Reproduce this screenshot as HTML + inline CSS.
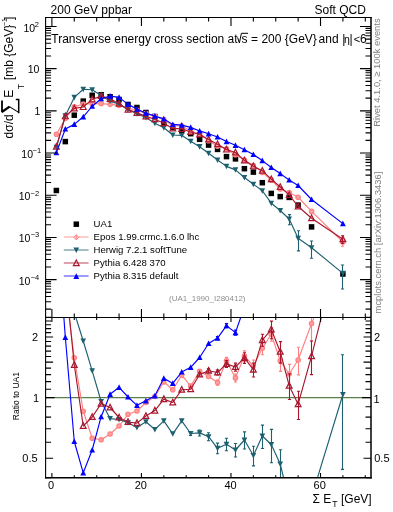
<!DOCTYPE html>
<html><head><meta charset="utf-8"><style>
html,body{margin:0;padding:0;background:#fff;width:393px;height:512px;overflow:hidden}
svg{display:block;will-change:transform;font-family:"Liberation Sans", sans-serif}
</style></head><body>
<svg width="393" height="512" viewBox="0 0 393 512" font-family="Liberation Sans"><defs><clipPath id="cm"><rect x="45.6" y="17.5" width="325.4" height="299.9"/></clipPath><clipPath id="cr"><rect x="45.6" y="317.4" width="325.4" height="160.40000000000003"/></clipPath></defs>
<g clip-path="url(#cm)">
<rect x="53.63" y="187.75" width="5.50" height="5.50" fill="#000"/>
<rect x="62.58" y="138.85" width="5.50" height="5.50" fill="#000"/>
<rect x="71.53" y="112.45" width="5.50" height="5.50" fill="#000"/>
<rect x="80.49" y="98.35" width="5.50" height="5.50" fill="#000"/>
<rect x="89.44" y="92.55" width="5.50" height="5.50" fill="#000"/>
<rect x="98.40" y="92.00" width="5.50" height="5.50" fill="#000"/>
<rect x="107.35" y="94.00" width="5.50" height="5.50" fill="#000"/>
<rect x="116.31" y="96.75" width="5.50" height="5.50" fill="#000"/>
<rect x="125.26" y="101.75" width="5.50" height="5.50" fill="#000"/>
<rect x="134.21" y="104.75" width="5.50" height="5.50" fill="#000"/>
<rect x="143.17" y="109.75" width="5.50" height="5.50" fill="#000"/>
<rect x="152.12" y="113.75" width="5.50" height="5.50" fill="#000"/>
<rect x="161.08" y="120.15" width="5.50" height="5.50" fill="#000"/>
<rect x="170.03" y="124.65" width="5.50" height="5.50" fill="#000"/>
<rect x="178.98" y="127.75" width="5.50" height="5.50" fill="#000"/>
<rect x="187.94" y="130.95" width="5.50" height="5.50" fill="#000"/>
<rect x="196.89" y="136.55" width="5.50" height="5.50" fill="#000"/>
<rect x="205.85" y="142.35" width="5.50" height="5.50" fill="#000"/>
<rect x="214.80" y="146.65" width="5.50" height="5.50" fill="#000"/>
<rect x="223.75" y="153.85" width="5.50" height="5.50" fill="#000"/>
<rect x="232.71" y="156.15" width="5.50" height="5.50" fill="#000"/>
<rect x="241.66" y="165.95" width="5.50" height="5.50" fill="#000"/>
<rect x="250.62" y="169.35" width="5.50" height="5.50" fill="#000"/>
<rect x="259.57" y="179.95" width="5.50" height="5.50" fill="#000"/>
<rect x="268.52" y="190.65" width="5.50" height="5.50" fill="#000"/>
<rect x="277.48" y="193.85" width="5.50" height="5.50" fill="#000"/>
<rect x="286.43" y="194.65" width="5.50" height="5.50" fill="#000"/>
<rect x="295.38" y="202.35" width="5.50" height="5.50" fill="#000"/>
<rect x="308.82" y="224.15" width="5.50" height="5.50" fill="#000"/>
<rect x="340.15" y="271.25" width="5.50" height="5.50" fill="#000"/>
<polyline points="56.38,134.20 65.33,118.50 74.28,106.88 83.24,103.94 92.19,103.78 101.15,103.57 110.10,104.36 119.06,105.43 128.01,107.99 136.96,110.30 145.92,113.52 154.87,116.27 163.83,119.62 172.78,125.75 181.73,125.82 190.69,131.30 199.64,133.81 208.60,140.69 217.55,146.27 226.50,148.91 235.46,154.78 244.41,160.01 253.37,165.46 262.32,172.39 271.27,180.15 280.23,188.90 289.18,192.47 298.13,197.24 311.57,211.42 342.90,242.00" fill="none" stroke="#ff8080" stroke-width="1.15" stroke-linejoin="round"/>
<circle cx="56.38" cy="134.20" r="2.25" fill="#ff9c9c" stroke="#ff8080" stroke-width="1.1"/>
<circle cx="65.33" cy="118.50" r="2.25" fill="#ff9c9c" stroke="#ff8080" stroke-width="1.1"/>
<circle cx="74.28" cy="106.88" r="2.25" fill="#ff9c9c" stroke="#ff8080" stroke-width="1.1"/>
<circle cx="83.24" cy="103.94" r="2.25" fill="#ff9c9c" stroke="#ff8080" stroke-width="1.1"/>
<circle cx="92.19" cy="103.78" r="2.25" fill="#ff9c9c" stroke="#ff8080" stroke-width="1.1"/>
<circle cx="101.15" cy="103.57" r="2.25" fill="#ff9c9c" stroke="#ff8080" stroke-width="1.1"/>
<circle cx="110.10" cy="104.36" r="2.25" fill="#ff9c9c" stroke="#ff8080" stroke-width="1.1"/>
<circle cx="119.06" cy="105.43" r="2.25" fill="#ff9c9c" stroke="#ff8080" stroke-width="1.1"/>
<circle cx="128.01" cy="107.99" r="2.25" fill="#ff9c9c" stroke="#ff8080" stroke-width="1.1"/>
<circle cx="136.96" cy="110.30" r="2.25" fill="#ff9c9c" stroke="#ff8080" stroke-width="1.1"/>
<circle cx="145.92" cy="113.52" r="2.25" fill="#ff9c9c" stroke="#ff8080" stroke-width="1.1"/>
<circle cx="154.87" cy="116.27" r="2.25" fill="#ff9c9c" stroke="#ff8080" stroke-width="1.1"/>
<circle cx="163.83" cy="119.62" r="2.25" fill="#ff9c9c" stroke="#ff8080" stroke-width="1.1"/>
<circle cx="172.78" cy="125.75" r="2.25" fill="#ff9c9c" stroke="#ff8080" stroke-width="1.1"/>
<circle cx="181.73" cy="125.82" r="2.25" fill="#ff9c9c" stroke="#ff8080" stroke-width="1.1"/>
<circle cx="190.69" cy="131.30" r="2.25" fill="#ff9c9c" stroke="#ff8080" stroke-width="1.1"/>
<circle cx="199.64" cy="133.81" r="2.25" fill="#ff9c9c" stroke="#ff8080" stroke-width="1.1"/>
<circle cx="208.60" cy="140.69" r="2.25" fill="#ff9c9c" stroke="#ff8080" stroke-width="1.1"/>
<circle cx="217.55" cy="146.27" r="2.25" fill="#ff9c9c" stroke="#ff8080" stroke-width="1.1"/>
<circle cx="226.50" cy="148.91" r="2.25" fill="#ff9c9c" stroke="#ff8080" stroke-width="1.1"/>
<circle cx="235.46" cy="154.78" r="2.25" fill="#ff9c9c" stroke="#ff8080" stroke-width="1.1"/>
<circle cx="244.41" cy="160.01" r="2.25" fill="#ff9c9c" stroke="#ff8080" stroke-width="1.1"/>
<circle cx="253.37" cy="165.46" r="2.25" fill="#ff9c9c" stroke="#ff8080" stroke-width="1.1"/>
<circle cx="262.32" cy="172.39" r="2.25" fill="#ff9c9c" stroke="#ff8080" stroke-width="1.1"/>
<circle cx="271.27" cy="180.15" r="2.25" fill="#ff9c9c" stroke="#ff8080" stroke-width="1.1"/>
<circle cx="280.23" cy="188.90" r="2.25" fill="#ff9c9c" stroke="#ff8080" stroke-width="1.1"/>
<circle cx="289.18" cy="192.47" r="2.25" fill="#ff9c9c" stroke="#ff8080" stroke-width="1.1"/>
<circle cx="298.13" cy="197.24" r="2.25" fill="#ff9c9c" stroke="#ff8080" stroke-width="1.1"/>
<circle cx="311.57" cy="211.42" r="2.25" fill="#ff9c9c" stroke="#ff8080" stroke-width="1.1"/>
<path d="M342.50 238.58L342.50 246.21M340.90 238.58L344.10 238.58M340.90 246.21L344.10 246.21" stroke="#ff8080" stroke-width="1.1" fill="none"/>
<circle cx="342.90" cy="242.00" r="2.25" fill="#ff9c9c" stroke="#ff8080" stroke-width="1.1"/>
<polyline points="56.38,147.30 65.33,115.70 74.28,97.40 83.24,89.27 92.19,89.70 101.15,95.56 110.10,101.14 119.06,104.08 128.01,109.77 136.96,113.73 145.92,117.56 154.87,123.16 163.83,127.75 172.78,134.96 181.73,135.35 190.69,141.20 199.64,146.68 208.60,153.27 217.55,159.99 226.50,166.36 235.46,169.85 244.41,177.56 253.37,184.20 262.32,190.72 271.27,203.20 280.23,210.47 289.18,219.00 298.13,238.20 311.57,247.70 342.90,273.35" fill="none" stroke="#1d6070" stroke-width="1.15" stroke-linejoin="round"/>
<path d="M53.53 144.74L59.23 144.74L56.38 150.29Z" fill="#1d6070"/>
<path d="M62.48 113.14L68.18 113.14L65.33 118.69Z" fill="#1d6070"/>
<path d="M71.44 94.84L77.13 94.84L74.28 100.39Z" fill="#1d6070"/>
<path d="M80.39 86.71L86.09 86.71L83.24 92.27Z" fill="#1d6070"/>
<path d="M89.34 87.14L95.04 87.14L92.19 92.69Z" fill="#1d6070"/>
<path d="M98.30 93.00L104.00 93.00L101.15 98.56Z" fill="#1d6070"/>
<path d="M107.25 98.57L112.95 98.57L110.10 104.13Z" fill="#1d6070"/>
<path d="M116.21 101.51L121.91 101.51L119.06 107.07Z" fill="#1d6070"/>
<path d="M125.16 107.20L130.86 107.20L128.01 112.76Z" fill="#1d6070"/>
<path d="M134.11 111.16L139.81 111.16L136.96 116.72Z" fill="#1d6070"/>
<path d="M143.07 114.99L148.77 114.99L145.92 120.55Z" fill="#1d6070"/>
<path d="M152.02 120.60L157.72 120.60L154.87 126.16Z" fill="#1d6070"/>
<path d="M160.98 125.18L166.68 125.18L163.83 130.74Z" fill="#1d6070"/>
<path d="M169.93 132.40L175.63 132.40L172.78 137.96Z" fill="#1d6070"/>
<path d="M178.88 132.78L184.58 132.78L181.73 138.34Z" fill="#1d6070"/>
<path d="M187.84 138.64L193.54 138.64L190.69 144.19Z" fill="#1d6070"/>
<path d="M196.79 144.11L202.49 144.11L199.64 149.67Z" fill="#1d6070"/>
<path d="M205.75 150.70L211.45 150.70L208.60 156.26Z" fill="#1d6070"/>
<path d="M214.70 157.43L220.40 157.43L217.55 162.99Z" fill="#1d6070"/>
<path d="M223.65 163.79L229.35 163.79L226.50 169.35Z" fill="#1d6070"/>
<path d="M232.61 167.28L238.31 167.28L235.46 172.84Z" fill="#1d6070"/>
<path d="M241.56 174.99L247.26 174.99L244.41 180.55Z" fill="#1d6070"/>
<path d="M250.52 181.63L256.22 181.63L253.37 187.19Z" fill="#1d6070"/>
<path d="M259.47 188.16L265.17 188.16L262.32 193.72Z" fill="#1d6070"/>
<path d="M268.42 200.63L274.12 200.63L271.27 206.19Z" fill="#1d6070"/>
<path d="M277.38 207.91L283.08 207.91L280.23 213.47Z" fill="#1d6070"/>
<path d="M289.50 214.63L289.50 224.75M287.90 214.63L291.10 214.63M287.90 224.75L291.10 224.75" stroke="#1d6070" stroke-width="1.1" fill="none"/>
<path d="M286.33 216.44L292.03 216.44L289.18 221.99Z" fill="#1d6070"/>
<path d="M298.50 230.79L298.50 250.87M296.90 230.79L300.10 230.79M296.90 250.87L300.10 250.87" stroke="#1d6070" stroke-width="1.1" fill="none"/>
<path d="M295.28 235.63L300.99 235.63L298.13 241.19Z" fill="#1d6070"/>
<path d="M311.50 241.03L311.50 258.30M309.90 241.03L313.10 241.03M309.90 258.30L313.10 258.30" stroke="#1d6070" stroke-width="1.1" fill="none"/>
<path d="M308.72 245.13L314.42 245.13L311.57 250.69Z" fill="#1d6070"/>
<path d="M342.50 265.05L342.50 289.00M340.90 265.05L344.10 265.05M340.90 289.00L344.10 289.00" stroke="#1d6070" stroke-width="1.1" fill="none"/>
<path d="M340.05 270.79L345.75 270.79L342.90 276.34Z" fill="#1d6070"/>
<polyline points="56.38,146.70 65.33,116.30 74.28,108.39 83.24,107.03 92.19,99.35 101.15,96.00 110.10,98.82 119.06,103.66 128.01,109.60 136.96,112.83 145.92,116.34 154.87,119.22 163.83,123.21 172.78,128.42 181.73,128.85 190.69,131.94 199.64,134.47 208.60,139.48 217.55,144.16 226.50,149.56 235.46,152.51 244.41,160.41 253.37,166.27 262.32,170.69 271.27,179.17 280.23,187.01 289.18,194.91 298.13,206.48 311.57,218.25 342.90,239.20" fill="none" stroke="#a8172e" stroke-width="1.15" stroke-linejoin="round"/>
<path d="M53.48 149.16L59.28 149.16L56.38 143.51Z" fill="none" stroke="#a8172e" stroke-width="1.2"/>
<path d="M62.43 118.77L68.23 118.77L65.33 113.11Z" fill="none" stroke="#a8172e" stroke-width="1.2"/>
<path d="M71.38 110.85L77.19 110.85L74.28 105.20Z" fill="none" stroke="#a8172e" stroke-width="1.2"/>
<path d="M80.34 109.50L86.14 109.50L83.24 103.84Z" fill="none" stroke="#a8172e" stroke-width="1.2"/>
<path d="M89.29 101.82L95.09 101.82L92.19 96.16Z" fill="none" stroke="#a8172e" stroke-width="1.2"/>
<path d="M98.25 98.47L104.05 98.47L101.15 92.81Z" fill="none" stroke="#a8172e" stroke-width="1.2"/>
<path d="M107.20 101.28L113.00 101.28L110.10 95.63Z" fill="none" stroke="#a8172e" stroke-width="1.2"/>
<path d="M116.16 106.12L121.96 106.12L119.06 100.47Z" fill="none" stroke="#a8172e" stroke-width="1.2"/>
<path d="M125.11 112.06L130.91 112.06L128.01 106.41Z" fill="none" stroke="#a8172e" stroke-width="1.2"/>
<path d="M134.06 115.29L139.86 115.29L136.96 109.64Z" fill="none" stroke="#a8172e" stroke-width="1.2"/>
<path d="M143.02 118.81L148.82 118.81L145.92 113.15Z" fill="none" stroke="#a8172e" stroke-width="1.2"/>
<path d="M151.97 121.68L157.77 121.68L154.87 116.03Z" fill="none" stroke="#a8172e" stroke-width="1.2"/>
<path d="M160.93 125.68L166.73 125.68L163.83 120.02Z" fill="none" stroke="#a8172e" stroke-width="1.2"/>
<path d="M169.88 130.89L175.68 130.89L172.78 125.23Z" fill="none" stroke="#a8172e" stroke-width="1.2"/>
<path d="M178.83 131.31L184.63 131.31L181.73 125.66Z" fill="none" stroke="#a8172e" stroke-width="1.2"/>
<path d="M187.79 134.41L193.59 134.41L190.69 128.75Z" fill="none" stroke="#a8172e" stroke-width="1.2"/>
<path d="M196.74 136.94L202.54 136.94L199.64 131.28Z" fill="none" stroke="#a8172e" stroke-width="1.2"/>
<path d="M205.70 141.94L211.50 141.94L208.60 136.29Z" fill="none" stroke="#a8172e" stroke-width="1.2"/>
<path d="M214.65 146.62L220.45 146.62L217.55 140.97Z" fill="none" stroke="#a8172e" stroke-width="1.2"/>
<path d="M223.60 152.02L229.40 152.02L226.50 146.37Z" fill="none" stroke="#a8172e" stroke-width="1.2"/>
<path d="M232.56 154.97L238.36 154.97L235.46 149.32Z" fill="none" stroke="#a8172e" stroke-width="1.2"/>
<path d="M241.51 162.87L247.31 162.87L244.41 157.22Z" fill="none" stroke="#a8172e" stroke-width="1.2"/>
<path d="M250.47 168.74L256.26 168.74L253.37 163.08Z" fill="none" stroke="#a8172e" stroke-width="1.2"/>
<path d="M259.42 173.15L265.22 173.15L262.32 167.50Z" fill="none" stroke="#a8172e" stroke-width="1.2"/>
<path d="M268.37 181.64L274.17 181.64L271.27 175.98Z" fill="none" stroke="#a8172e" stroke-width="1.2"/>
<path d="M277.33 189.48L283.13 189.48L280.23 183.82Z" fill="none" stroke="#a8172e" stroke-width="1.2"/>
<path d="M286.28 197.38L292.08 197.38L289.18 191.72Z" fill="none" stroke="#a8172e" stroke-width="1.2"/>
<path d="M295.24 208.94L301.03 208.94L298.13 203.29Z" fill="none" stroke="#a8172e" stroke-width="1.2"/>
<path d="M308.67 220.72L314.47 220.72L311.57 215.06Z" fill="none" stroke="#a8172e" stroke-width="1.2"/>
<path d="M342.50 235.78L342.50 243.41M340.90 235.78L344.10 235.78M340.90 243.41L344.10 243.41" stroke="#a8172e" stroke-width="1.1" fill="none"/>
<path d="M340.00 241.66L345.80 241.66L342.90 236.01Z" fill="none" stroke="#a8172e" stroke-width="1.2"/>
<polyline points="56.38,152.60 65.33,129.00 74.28,124.37 83.24,116.81 92.19,106.25 101.15,98.74 110.10,96.06 119.06,97.35 128.01,104.37 136.96,109.11 145.92,113.17 154.87,116.12 163.83,118.87 172.78,124.43 181.73,125.15 190.69,127.37 199.64,130.92 208.60,133.80 217.55,136.97 226.50,141.56 235.46,145.32 244.41,149.70 253.37,154.50 262.32,160.60 271.27,167.50 280.23,173.60 289.18,180.00 298.13,185.50 311.57,199.50 342.90,223.60" fill="none" stroke="#0000ff" stroke-width="1.15" stroke-linejoin="round"/>
<path d="M53.48 155.21L59.28 155.21L56.38 149.56Z" fill="#0000ff"/>
<path d="M62.43 131.61L68.23 131.61L65.33 125.96Z" fill="#0000ff"/>
<path d="M71.38 126.98L77.19 126.98L74.28 121.33Z" fill="#0000ff"/>
<path d="M80.34 119.42L86.14 119.42L83.24 113.77Z" fill="#0000ff"/>
<path d="M89.29 108.86L95.09 108.86L92.19 103.20Z" fill="#0000ff"/>
<path d="M98.25 101.35L104.05 101.35L101.15 95.70Z" fill="#0000ff"/>
<path d="M107.20 98.67L113.00 98.67L110.10 93.02Z" fill="#0000ff"/>
<path d="M116.16 99.96L121.96 99.96L119.06 94.30Z" fill="#0000ff"/>
<path d="M125.11 106.98L130.91 106.98L128.01 101.33Z" fill="#0000ff"/>
<path d="M134.06 111.72L139.86 111.72L136.96 106.06Z" fill="#0000ff"/>
<path d="M143.02 115.78L148.82 115.78L145.92 110.12Z" fill="#0000ff"/>
<path d="M151.97 118.73L157.77 118.73L154.87 113.08Z" fill="#0000ff"/>
<path d="M160.93 121.48L166.73 121.48L163.83 115.82Z" fill="#0000ff"/>
<path d="M169.88 127.04L175.68 127.04L172.78 121.39Z" fill="#0000ff"/>
<path d="M178.83 127.76L184.63 127.76L181.73 122.11Z" fill="#0000ff"/>
<path d="M187.79 129.98L193.59 129.98L190.69 124.32Z" fill="#0000ff"/>
<path d="M196.74 133.53L202.54 133.53L199.64 127.88Z" fill="#0000ff"/>
<path d="M205.70 136.41L211.50 136.41L208.60 130.75Z" fill="#0000ff"/>
<path d="M214.65 139.58L220.45 139.58L217.55 133.92Z" fill="#0000ff"/>
<path d="M223.60 144.17L229.40 144.17L226.50 138.51Z" fill="#0000ff"/>
<path d="M232.56 147.93L238.36 147.93L235.46 142.27Z" fill="#0000ff"/>
<path d="M241.51 152.31L247.31 152.31L244.41 146.66Z" fill="#0000ff"/>
<path d="M250.47 157.11L256.26 157.11L253.37 151.46Z" fill="#0000ff"/>
<path d="M259.42 163.21L265.22 163.21L262.32 157.56Z" fill="#0000ff"/>
<path d="M268.37 170.11L274.17 170.11L271.27 164.46Z" fill="#0000ff"/>
<path d="M277.33 176.21L283.13 176.21L280.23 170.56Z" fill="#0000ff"/>
<path d="M286.28 182.61L292.08 182.61L289.18 176.96Z" fill="#0000ff"/>
<path d="M295.24 188.11L301.03 188.11L298.13 182.46Z" fill="#0000ff"/>
<path d="M308.67 202.11L314.47 202.11L311.57 196.46Z" fill="#0000ff"/>
<path d="M340.00 226.21L345.80 226.21L342.90 220.56Z" fill="#0000ff"/>
</g>
<line x1="45.6" y1="397.60" x2="371.0" y2="397.60" stroke="#5a7f48" stroke-width="1.1"/>
<g clip-path="url(#cr)">
<polyline points="56.38,128.14 65.33,287.04 74.28,357.80 83.24,411.20 92.19,438.20 101.15,439.80 110.10,434.00 119.06,426.00 128.01,414.30 136.96,411.00 145.92,402.50 154.87,396.50 163.83,381.90 172.78,389.70 181.73,375.20 190.69,386.10 199.64,371.30 208.60,376.50 217.55,382.60 226.50,360.80 235.46,377.90 244.41,356.00 253.37,365.80 262.32,348.25 271.27,334.20 280.23,360.75 289.18,374.00 298.13,360.00 311.57,323.50 342.90,244.44" fill="none" stroke="#ff8080" stroke-width="1.15" stroke-linejoin="round"/>
<circle cx="74.28" cy="357.80" r="2.25" fill="#ff9c9c" stroke="#ff8080" stroke-width="1.1"/>
<circle cx="83.24" cy="411.20" r="2.25" fill="#ff9c9c" stroke="#ff8080" stroke-width="1.1"/>
<circle cx="92.19" cy="438.20" r="2.25" fill="#ff9c9c" stroke="#ff8080" stroke-width="1.1"/>
<circle cx="101.15" cy="439.80" r="2.25" fill="#ff9c9c" stroke="#ff8080" stroke-width="1.1"/>
<circle cx="110.10" cy="434.00" r="2.25" fill="#ff9c9c" stroke="#ff8080" stroke-width="1.1"/>
<circle cx="119.06" cy="426.00" r="2.25" fill="#ff9c9c" stroke="#ff8080" stroke-width="1.1"/>
<circle cx="128.01" cy="414.30" r="2.25" fill="#ff9c9c" stroke="#ff8080" stroke-width="1.1"/>
<circle cx="136.96" cy="411.00" r="2.25" fill="#ff9c9c" stroke="#ff8080" stroke-width="1.1"/>
<circle cx="145.92" cy="402.50" r="2.25" fill="#ff9c9c" stroke="#ff8080" stroke-width="1.1"/>
<circle cx="154.87" cy="396.50" r="2.25" fill="#ff9c9c" stroke="#ff8080" stroke-width="1.1"/>
<circle cx="163.83" cy="381.90" r="2.25" fill="#ff9c9c" stroke="#ff8080" stroke-width="1.1"/>
<circle cx="172.78" cy="389.70" r="2.25" fill="#ff9c9c" stroke="#ff8080" stroke-width="1.1"/>
<circle cx="181.73" cy="375.20" r="2.25" fill="#ff9c9c" stroke="#ff8080" stroke-width="1.1"/>
<circle cx="190.69" cy="386.10" r="2.25" fill="#ff9c9c" stroke="#ff8080" stroke-width="1.1"/>
<path d="M199.50 369.81L199.50 372.81M197.90 369.81L201.10 369.81M197.90 372.81L201.10 372.81" stroke="#ff8080" stroke-width="1.1" fill="none"/>
<circle cx="199.64" cy="371.30" r="2.25" fill="#ff9c9c" stroke="#ff8080" stroke-width="1.1"/>
<path d="M208.50 374.52L208.50 378.52M206.90 374.52L210.10 374.52M206.90 378.52L210.10 378.52" stroke="#ff8080" stroke-width="1.1" fill="none"/>
<circle cx="208.60" cy="376.50" r="2.25" fill="#ff9c9c" stroke="#ff8080" stroke-width="1.1"/>
<path d="M217.50 380.13L217.50 385.14M215.90 380.13L219.10 380.13M215.90 385.14L219.10 385.14" stroke="#ff8080" stroke-width="1.1" fill="none"/>
<circle cx="217.55" cy="382.60" r="2.25" fill="#ff9c9c" stroke="#ff8080" stroke-width="1.1"/>
<path d="M226.50 357.37L226.50 364.37M224.90 357.37L228.10 357.37M224.90 364.37L228.10 364.37" stroke="#ff8080" stroke-width="1.1" fill="none"/>
<circle cx="226.50" cy="360.80" r="2.25" fill="#ff9c9c" stroke="#ff8080" stroke-width="1.1"/>
<path d="M235.50 373.99L235.50 382.00M233.90 373.99L237.10 373.99M233.90 382.00L237.10 382.00" stroke="#ff8080" stroke-width="1.1" fill="none"/>
<circle cx="235.46" cy="377.90" r="2.25" fill="#ff9c9c" stroke="#ff8080" stroke-width="1.1"/>
<path d="M244.50 350.85L244.50 361.47M242.90 350.85L246.10 350.85M242.90 361.47L246.10 361.47" stroke="#ff8080" stroke-width="1.1" fill="none"/>
<circle cx="244.41" cy="356.00" r="2.25" fill="#ff9c9c" stroke="#ff8080" stroke-width="1.1"/>
<path d="M253.50 360.00L253.50 372.02M251.90 360.00L255.10 360.00M251.90 372.02L255.10 372.02" stroke="#ff8080" stroke-width="1.1" fill="none"/>
<circle cx="253.37" cy="365.80" r="2.25" fill="#ff9c9c" stroke="#ff8080" stroke-width="1.1"/>
<path d="M262.50 342.17L262.50 354.79M260.90 342.17L264.10 342.17M260.90 354.79L264.10 354.79" stroke="#ff8080" stroke-width="1.1" fill="none"/>
<circle cx="262.32" cy="348.25" r="2.25" fill="#ff9c9c" stroke="#ff8080" stroke-width="1.1"/>
<path d="M271.50 327.65L271.50 341.28M269.90 327.65L273.10 327.65M269.90 341.28L273.10 341.28" stroke="#ff8080" stroke-width="1.1" fill="none"/>
<circle cx="271.27" cy="334.20" r="2.25" fill="#ff9c9c" stroke="#ff8080" stroke-width="1.1"/>
<path d="M280.50 351.28L280.50 371.37M278.90 351.28L282.10 351.28M278.90 371.37L282.10 371.37" stroke="#ff8080" stroke-width="1.1" fill="none"/>
<circle cx="280.23" cy="360.75" r="2.25" fill="#ff9c9c" stroke="#ff8080" stroke-width="1.1"/>
<path d="M289.50 364.35L289.50 384.85M287.90 364.35L291.10 364.35M287.90 384.85L291.10 384.85" stroke="#ff8080" stroke-width="1.1" fill="none"/>
<circle cx="289.18" cy="374.00" r="2.25" fill="#ff9c9c" stroke="#ff8080" stroke-width="1.1"/>
<path d="M298.50 347.27L298.50 374.90M296.90 347.27L300.10 347.27M296.90 374.90L300.10 374.90" stroke="#ff8080" stroke-width="1.1" fill="none"/>
<circle cx="298.13" cy="360.00" r="2.25" fill="#ff9c9c" stroke="#ff8080" stroke-width="1.1"/>
<path d="M311.50 309.14L311.50 340.69M309.90 309.14L313.10 309.14M309.90 340.69L313.10 340.69" stroke="#ff8080" stroke-width="1.1" fill="none"/>
<circle cx="311.57" cy="323.50" r="2.25" fill="#ff9c9c" stroke="#ff8080" stroke-width="1.1"/>
<polyline points="56.38,190.84 65.33,273.64 74.28,312.41 83.24,341.00 92.19,370.80 101.15,401.50 110.10,418.60 119.06,419.50 128.01,422.80 136.96,427.40 145.92,421.80 154.87,429.50 163.83,420.80 172.78,433.80 181.73,420.80 190.69,433.50 199.64,432.90 208.60,436.70 217.55,448.30 226.50,444.30 235.46,450.00 244.41,440.00 253.37,455.50 262.32,436.00 271.27,444.50 280.23,464.00 289.18,500.98 298.13,556.02 311.57,497.15 342.90,394.50" fill="none" stroke="#1d6070" stroke-width="1.15" stroke-linejoin="round"/>
<path d="M80.39 338.44L86.09 338.44L83.24 343.99Z" fill="#1d6070"/>
<path d="M89.34 368.24L95.04 368.24L92.19 373.79Z" fill="#1d6070"/>
<path d="M98.30 398.94L104.00 398.94L101.15 404.49Z" fill="#1d6070"/>
<path d="M107.25 416.04L112.95 416.04L110.10 421.59Z" fill="#1d6070"/>
<path d="M116.21 416.94L121.91 416.94L119.06 422.49Z" fill="#1d6070"/>
<path d="M125.16 420.24L130.86 420.24L128.01 425.79Z" fill="#1d6070"/>
<path d="M134.11 424.83L139.81 424.83L136.96 430.39Z" fill="#1d6070"/>
<path d="M143.07 419.24L148.77 419.24L145.92 424.79Z" fill="#1d6070"/>
<path d="M152.02 426.94L157.72 426.94L154.87 432.49Z" fill="#1d6070"/>
<path d="M160.98 418.24L166.68 418.24L163.83 423.79Z" fill="#1d6070"/>
<path d="M169.93 431.24L175.63 431.24L172.78 436.79Z" fill="#1d6070"/>
<path d="M178.88 418.24L184.58 418.24L181.73 423.79Z" fill="#1d6070"/>
<path d="M190.50 431.52L190.50 435.52M188.90 431.52L192.10 431.52M188.90 435.52L192.10 435.52" stroke="#1d6070" stroke-width="1.1" fill="none"/>
<path d="M187.84 430.94L193.54 430.94L190.69 436.49Z" fill="#1d6070"/>
<path d="M199.50 429.95L199.50 435.95M197.90 429.95L201.10 429.95M197.90 435.95L201.10 435.95" stroke="#1d6070" stroke-width="1.1" fill="none"/>
<path d="M196.79 430.33L202.49 430.33L199.64 435.89Z" fill="#1d6070"/>
<path d="M208.50 432.79L208.50 440.80M206.90 432.79L210.10 432.79M206.90 440.80L210.10 440.80" stroke="#1d6070" stroke-width="1.1" fill="none"/>
<path d="M205.75 434.13L211.45 434.13L208.60 439.69Z" fill="#1d6070"/>
<path d="M217.50 443.15L217.50 453.77M215.90 443.15L219.10 443.15M215.90 453.77L219.10 453.77" stroke="#1d6070" stroke-width="1.1" fill="none"/>
<path d="M214.70 445.74L220.40 445.74L217.55 451.29Z" fill="#1d6070"/>
<path d="M226.50 438.31L226.50 450.73M224.90 438.31L228.10 438.31M224.90 450.73L228.10 450.73" stroke="#1d6070" stroke-width="1.1" fill="none"/>
<path d="M223.65 441.74L229.35 441.74L226.50 447.29Z" fill="#1d6070"/>
<path d="M235.50 443.54L235.50 456.97M233.90 443.54L237.10 443.54M233.90 456.97L237.10 456.97" stroke="#1d6070" stroke-width="1.1" fill="none"/>
<path d="M232.61 447.44L238.31 447.44L235.46 452.99Z" fill="#1d6070"/>
<path d="M244.50 431.89L244.50 448.94M242.90 431.89L246.10 431.89M242.90 448.94L246.10 448.94" stroke="#1d6070" stroke-width="1.1" fill="none"/>
<path d="M241.56 437.44L247.26 437.44L244.41 442.99Z" fill="#1d6070"/>
<path d="M253.50 446.21L253.50 465.90M251.90 446.21L255.10 446.21M251.90 465.90L255.10 465.90" stroke="#1d6070" stroke-width="1.1" fill="none"/>
<path d="M250.52 452.94L256.22 452.94L253.37 458.49Z" fill="#1d6070"/>
<path d="M262.50 425.10L262.50 448.45M260.90 425.10L264.10 425.10M260.90 448.45L264.10 448.45" stroke="#1d6070" stroke-width="1.1" fill="none"/>
<path d="M259.47 433.44L265.17 433.44L262.32 438.99Z" fill="#1d6070"/>
<path d="M271.50 429.38L271.50 462.79M269.90 429.38L273.10 429.38M269.90 462.79L273.10 462.79" stroke="#1d6070" stroke-width="1.1" fill="none"/>
<path d="M268.42 441.94L274.12 441.94L271.27 447.49Z" fill="#1d6070"/>
<path d="M280.50 449.73L280.50 481.06M278.90 449.73L282.10 449.73M278.90 481.06L282.10 481.06" stroke="#1d6070" stroke-width="1.1" fill="none"/>
<path d="M277.38 461.44L283.08 461.44L280.23 466.99Z" fill="#1d6070"/>
<path d="M342.50 354.75L342.50 469.38M340.90 354.75L344.10 354.75M340.90 469.38L344.10 469.38" stroke="#1d6070" stroke-width="1.1" fill="none"/>
<path d="M340.05 391.94L345.75 391.94L342.90 397.49Z" fill="#1d6070"/>
<polyline points="56.38,187.96 65.33,276.51 74.28,365.00 83.24,426.00 92.19,417.00 101.15,403.60 110.10,407.50 119.06,417.50 128.01,422.00 136.96,423.10 145.92,416.00 154.87,410.60 163.83,399.10 172.78,402.50 181.73,389.70 190.69,389.20 199.64,374.50 208.60,370.70 217.55,372.50 226.50,363.90 235.46,367.00 244.41,357.90 253.37,369.70 262.32,340.10 271.27,329.50 280.23,351.70 289.18,385.70 298.13,404.20 311.57,356.20 342.90,231.04" fill="none" stroke="#a8172e" stroke-width="1.15" stroke-linejoin="round"/>
<path d="M71.38 367.46L77.19 367.46L74.28 361.81Z" fill="none" stroke="#a8172e" stroke-width="1.2"/>
<path d="M80.34 428.46L86.14 428.46L83.24 422.81Z" fill="none" stroke="#a8172e" stroke-width="1.2"/>
<path d="M89.29 419.46L95.09 419.46L92.19 413.81Z" fill="none" stroke="#a8172e" stroke-width="1.2"/>
<path d="M98.25 406.06L104.05 406.06L101.15 400.41Z" fill="none" stroke="#a8172e" stroke-width="1.2"/>
<path d="M107.20 409.96L113.00 409.96L110.10 404.31Z" fill="none" stroke="#a8172e" stroke-width="1.2"/>
<path d="M116.16 419.96L121.96 419.96L119.06 414.31Z" fill="none" stroke="#a8172e" stroke-width="1.2"/>
<path d="M125.11 424.46L130.91 424.46L128.01 418.81Z" fill="none" stroke="#a8172e" stroke-width="1.2"/>
<path d="M134.06 425.56L139.86 425.56L136.96 419.91Z" fill="none" stroke="#a8172e" stroke-width="1.2"/>
<path d="M143.02 418.46L148.82 418.46L145.92 412.81Z" fill="none" stroke="#a8172e" stroke-width="1.2"/>
<path d="M151.97 413.06L157.77 413.06L154.87 407.41Z" fill="none" stroke="#a8172e" stroke-width="1.2"/>
<path d="M160.93 401.56L166.73 401.56L163.83 395.91Z" fill="none" stroke="#a8172e" stroke-width="1.2"/>
<path d="M169.88 404.96L175.68 404.96L172.78 399.31Z" fill="none" stroke="#a8172e" stroke-width="1.2"/>
<path d="M178.83 392.16L184.63 392.16L181.73 386.51Z" fill="none" stroke="#a8172e" stroke-width="1.2"/>
<path d="M187.79 391.66L193.59 391.66L190.69 386.01Z" fill="none" stroke="#a8172e" stroke-width="1.2"/>
<path d="M199.50 373.01L199.50 376.01M197.90 373.01L201.10 373.01M197.90 376.01L201.10 376.01" stroke="#a8172e" stroke-width="1.1" fill="none"/>
<path d="M196.74 376.96L202.54 376.96L199.64 371.31Z" fill="none" stroke="#a8172e" stroke-width="1.2"/>
<path d="M208.50 368.72L208.50 372.72M206.90 368.72L210.10 368.72M206.90 372.72L210.10 372.72" stroke="#a8172e" stroke-width="1.1" fill="none"/>
<path d="M205.70 373.16L211.50 373.16L208.60 367.51Z" fill="none" stroke="#a8172e" stroke-width="1.2"/>
<path d="M217.50 370.03L217.50 375.04M215.90 370.03L219.10 370.03M215.90 375.04L219.10 375.04" stroke="#a8172e" stroke-width="1.1" fill="none"/>
<path d="M214.65 374.96L220.45 374.96L217.55 369.31Z" fill="none" stroke="#a8172e" stroke-width="1.2"/>
<path d="M226.50 360.47L226.50 367.47M224.90 360.47L228.10 360.47M224.90 367.47L228.10 367.47" stroke="#a8172e" stroke-width="1.1" fill="none"/>
<path d="M223.60 366.36L229.40 366.36L226.50 360.71Z" fill="none" stroke="#a8172e" stroke-width="1.2"/>
<path d="M235.50 363.09L235.50 371.10M233.90 363.09L237.10 363.09M233.90 371.10L237.10 371.10" stroke="#a8172e" stroke-width="1.1" fill="none"/>
<path d="M232.56 369.46L238.36 369.46L235.46 363.81Z" fill="none" stroke="#a8172e" stroke-width="1.2"/>
<path d="M244.50 352.75L244.50 363.37M242.90 352.75L246.10 352.75M242.90 363.37L246.10 363.37" stroke="#a8172e" stroke-width="1.1" fill="none"/>
<path d="M241.51 360.36L247.31 360.36L244.41 354.71Z" fill="none" stroke="#a8172e" stroke-width="1.2"/>
<path d="M253.50 362.96L253.50 377.00M251.90 362.96L255.10 362.96M251.90 377.00L255.10 377.00" stroke="#a8172e" stroke-width="1.1" fill="none"/>
<path d="M250.47 372.16L256.26 372.16L253.37 366.51Z" fill="none" stroke="#a8172e" stroke-width="1.2"/>
<path d="M262.50 334.30L262.50 346.32M260.90 334.30L264.10 334.30M260.90 346.32L264.10 346.32" stroke="#a8172e" stroke-width="1.1" fill="none"/>
<path d="M259.42 342.56L265.22 342.56L262.32 336.91Z" fill="none" stroke="#a8172e" stroke-width="1.2"/>
<path d="M271.50 321.11L271.50 338.78M269.90 321.11L273.10 321.11M269.90 338.78L273.10 338.78" stroke="#a8172e" stroke-width="1.1" fill="none"/>
<path d="M268.37 331.96L274.17 331.96L271.27 326.31Z" fill="none" stroke="#a8172e" stroke-width="1.2"/>
<path d="M280.50 341.60L280.50 363.12M278.90 341.60L282.10 341.60M278.90 363.12L282.10 363.12" stroke="#a8172e" stroke-width="1.1" fill="none"/>
<path d="M277.33 354.16L283.13 354.16L280.23 348.51Z" fill="none" stroke="#a8172e" stroke-width="1.2"/>
<path d="M289.50 373.84L289.50 399.43M287.90 373.84L291.10 373.84M287.90 399.43L291.10 399.43" stroke="#a8172e" stroke-width="1.1" fill="none"/>
<path d="M286.28 388.16L292.08 388.16L289.18 382.51Z" fill="none" stroke="#a8172e" stroke-width="1.2"/>
<path d="M298.50 391.21L298.50 419.46M296.90 391.21L300.10 391.21M296.90 419.46L300.10 419.46" stroke="#a8172e" stroke-width="1.1" fill="none"/>
<path d="M295.24 406.66L301.03 406.66L298.13 401.01Z" fill="none" stroke="#a8172e" stroke-width="1.2"/>
<path d="M311.50 341.00L311.50 374.61M309.90 341.00L313.10 341.00M309.90 374.61L313.10 374.61" stroke="#a8172e" stroke-width="1.1" fill="none"/>
<path d="M308.67 358.66L314.47 358.66L311.57 353.01Z" fill="none" stroke="#a8172e" stroke-width="1.2"/>
<polyline points="56.38,216.20 65.33,337.30 74.28,441.50 83.24,472.80 92.19,450.00 101.15,416.70 110.10,394.30 119.06,387.30 128.01,397.00 136.96,405.30 145.92,400.80 154.87,395.80 163.83,378.30 172.78,383.40 181.73,372.00 190.69,367.30 199.64,357.50 208.60,343.50 217.55,338.10 226.50,325.60 235.46,332.60 244.41,306.66 253.37,313.36 262.32,291.82 271.27,273.64 280.23,287.52 289.18,314.32 298.13,303.79 311.57,266.46 342.90,156.38" fill="none" stroke="#0000ff" stroke-width="1.15" stroke-linejoin="round"/>
<path d="M62.43 339.91L68.23 339.91L65.33 334.25Z" fill="#0000ff"/>
<path d="M71.38 444.11L77.19 444.11L74.28 438.45Z" fill="#0000ff"/>
<path d="M80.34 475.41L86.14 475.41L83.24 469.75Z" fill="#0000ff"/>
<path d="M89.29 452.61L95.09 452.61L92.19 446.95Z" fill="#0000ff"/>
<path d="M98.25 419.31L104.05 419.31L101.15 413.65Z" fill="#0000ff"/>
<path d="M107.20 396.91L113.00 396.91L110.10 391.25Z" fill="#0000ff"/>
<path d="M116.16 389.91L121.96 389.91L119.06 384.25Z" fill="#0000ff"/>
<path d="M125.11 399.61L130.91 399.61L128.01 393.95Z" fill="#0000ff"/>
<path d="M134.06 407.91L139.86 407.91L136.96 402.25Z" fill="#0000ff"/>
<path d="M143.02 403.41L148.82 403.41L145.92 397.75Z" fill="#0000ff"/>
<path d="M151.97 398.41L157.77 398.41L154.87 392.75Z" fill="#0000ff"/>
<path d="M160.93 380.91L166.73 380.91L163.83 375.25Z" fill="#0000ff"/>
<path d="M169.88 386.01L175.68 386.01L172.78 380.35Z" fill="#0000ff"/>
<path d="M178.83 374.61L184.63 374.61L181.73 368.95Z" fill="#0000ff"/>
<path d="M187.79 369.91L193.59 369.91L190.69 364.25Z" fill="#0000ff"/>
<path d="M196.74 360.11L202.54 360.11L199.64 354.45Z" fill="#0000ff"/>

<path d="M205.70 346.11L211.50 346.11L208.60 340.45Z" fill="#0000ff"/>
<path d="M217.50 336.61L217.50 339.61M215.90 336.61L219.10 336.61M215.90 339.61L219.10 339.61" stroke="#0000ff" stroke-width="1.1" fill="none"/>
<path d="M214.65 340.71L220.45 340.71L217.55 335.06Z" fill="#0000ff"/>
<path d="M226.50 323.62L226.50 327.62M224.90 323.62L228.10 323.62M224.90 327.62L228.10 327.62" stroke="#0000ff" stroke-width="1.1" fill="none"/>
<path d="M223.60 328.21L229.40 328.21L226.50 322.56Z" fill="#0000ff"/>
<path d="M235.50 330.13L235.50 335.14M233.90 330.13L237.10 330.13M233.90 335.14L237.10 335.14" stroke="#0000ff" stroke-width="1.1" fill="none"/>
<path d="M232.56 335.21L238.36 335.21L235.46 329.56Z" fill="#0000ff"/>
</g>
<path d="M45.6 16.95L45.6 478.55" stroke="#000" stroke-width="1.1"/><path d="M45.050000000000004 17.5L371.75 17.5" stroke="#000" stroke-width="1.1"/><path d="M371.0 16.95L371.0 478.55" stroke="#000" stroke-width="1.5"/><path d="M45.050000000000004 477.8L371.75 477.8" stroke="#000" stroke-width="1.5"/>
<line x1="45.6" y1="317.4" x2="371.0" y2="317.4" stroke="#000" stroke-width="1.05"/>
<path d="M51.90 17.50L51.90 26.00 M51.90 317.40L51.90 308.90 M51.90 317.40L51.90 322.10 M51.90 477.80L51.90 473.10 M74.28 17.50L74.28 21.50 M74.28 317.40L74.28 313.40 M74.28 317.40L74.28 319.90 M74.28 477.80L74.28 475.30 M96.67 17.50L96.67 21.50 M96.67 317.40L96.67 313.40 M96.67 317.40L96.67 319.90 M96.67 477.80L96.67 475.30 M119.06 17.50L119.06 21.50 M119.06 317.40L119.06 313.40 M119.06 317.40L119.06 319.90 M119.06 477.80L119.06 475.30 M141.44 17.50L141.44 26.00 M141.44 317.40L141.44 308.90 M141.44 317.40L141.44 322.10 M141.44 477.80L141.44 473.10 M163.83 17.50L163.83 21.50 M163.83 317.40L163.83 313.40 M163.83 317.40L163.83 319.90 M163.83 477.80L163.83 475.30 M186.21 17.50L186.21 21.50 M186.21 317.40L186.21 313.40 M186.21 317.40L186.21 319.90 M186.21 477.80L186.21 475.30 M208.60 17.50L208.60 21.50 M208.60 317.40L208.60 313.40 M208.60 317.40L208.60 319.90 M208.60 477.80L208.60 475.30 M230.98 17.50L230.98 26.00 M230.98 317.40L230.98 308.90 M230.98 317.40L230.98 322.10 M230.98 477.80L230.98 473.10 M253.37 17.50L253.37 21.50 M253.37 317.40L253.37 313.40 M253.37 317.40L253.37 319.90 M253.37 477.80L253.37 475.30 M275.75 17.50L275.75 21.50 M275.75 317.40L275.75 313.40 M275.75 317.40L275.75 319.90 M275.75 477.80L275.75 475.30 M298.13 17.50L298.13 21.50 M298.13 317.40L298.13 313.40 M298.13 317.40L298.13 319.90 M298.13 477.80L298.13 475.30 M320.52 17.50L320.52 26.00 M320.52 317.40L320.52 308.90 M320.52 317.40L320.52 322.10 M320.52 477.80L320.52 473.10 M342.90 17.50L342.90 21.50 M342.90 317.40L342.90 313.40 M342.90 317.40L342.90 319.90 M342.90 477.80L342.90 475.30 M365.29 17.50L365.29 21.50 M365.29 317.40L365.29 313.40 M365.29 317.40L365.29 319.90 M365.29 477.80L365.29 475.30 M45.60 309.15L51.10 309.15 M371.00 309.15L365.50 309.15 M45.60 301.72L51.10 301.72 M371.00 301.72L365.50 301.72 M45.60 296.44L51.10 296.44 M371.00 296.44L365.50 296.44 M45.60 292.35L51.10 292.35 M371.00 292.35L365.50 292.35 M45.60 289.01L51.10 289.01 M371.00 289.01L365.50 289.01 M45.60 286.19L51.10 286.19 M371.00 286.19L365.50 286.19 M45.60 283.74L51.10 283.74 M371.00 283.74L365.50 283.74 M45.60 281.58L51.10 281.58 M371.00 281.58L365.50 281.58 M45.60 279.65L56.60 279.65 M371.00 279.65L360.00 279.65 M45.60 266.95L51.10 266.95 M371.00 266.95L365.50 266.95 M45.60 259.52L51.10 259.52 M371.00 259.52L365.50 259.52 M45.60 254.24L51.10 254.24 M371.00 254.24L365.50 254.24 M45.60 250.15L51.10 250.15 M371.00 250.15L365.50 250.15 M45.60 246.81L51.10 246.81 M371.00 246.81L365.50 246.81 M45.60 243.99L51.10 243.99 M371.00 243.99L365.50 243.99 M45.60 241.54L51.10 241.54 M371.00 241.54L365.50 241.54 M45.60 239.38L51.10 239.38 M371.00 239.38L365.50 239.38 M45.60 237.45L56.60 237.45 M371.00 237.45L360.00 237.45 M45.60 224.75L51.10 224.75 M371.00 224.75L365.50 224.75 M45.60 217.32L51.10 217.32 M371.00 217.32L365.50 217.32 M45.60 212.04L51.10 212.04 M371.00 212.04L365.50 212.04 M45.60 207.95L51.10 207.95 M371.00 207.95L365.50 207.95 M45.60 204.61L51.10 204.61 M371.00 204.61L365.50 204.61 M45.60 201.79L51.10 201.79 M371.00 201.79L365.50 201.79 M45.60 199.34L51.10 199.34 M371.00 199.34L365.50 199.34 M45.60 197.18L51.10 197.18 M371.00 197.18L365.50 197.18 M45.60 195.25L56.60 195.25 M371.00 195.25L360.00 195.25 M45.60 182.55L51.10 182.55 M371.00 182.55L365.50 182.55 M45.60 175.12L51.10 175.12 M371.00 175.12L365.50 175.12 M45.60 169.84L51.10 169.84 M371.00 169.84L365.50 169.84 M45.60 165.75L51.10 165.75 M371.00 165.75L365.50 165.75 M45.60 162.41L51.10 162.41 M371.00 162.41L365.50 162.41 M45.60 159.59L51.10 159.59 M371.00 159.59L365.50 159.59 M45.60 157.14L51.10 157.14 M371.00 157.14L365.50 157.14 M45.60 154.98L51.10 154.98 M371.00 154.98L365.50 154.98 M45.60 153.05L56.60 153.05 M371.00 153.05L360.00 153.05 M45.60 140.35L51.10 140.35 M371.00 140.35L365.50 140.35 M45.60 132.92L51.10 132.92 M371.00 132.92L365.50 132.92 M45.60 127.64L51.10 127.64 M371.00 127.64L365.50 127.64 M45.60 123.55L51.10 123.55 M371.00 123.55L365.50 123.55 M45.60 120.21L51.10 120.21 M371.00 120.21L365.50 120.21 M45.60 117.39L51.10 117.39 M371.00 117.39L365.50 117.39 M45.60 114.94L51.10 114.94 M371.00 114.94L365.50 114.94 M45.60 112.78L51.10 112.78 M371.00 112.78L365.50 112.78 M45.60 110.85L56.60 110.85 M371.00 110.85L360.00 110.85 M45.60 98.15L51.10 98.15 M371.00 98.15L365.50 98.15 M45.60 90.72L51.10 90.72 M371.00 90.72L365.50 90.72 M45.60 85.44L51.10 85.44 M371.00 85.44L365.50 85.44 M45.60 81.35L51.10 81.35 M371.00 81.35L365.50 81.35 M45.60 78.01L51.10 78.01 M371.00 78.01L365.50 78.01 M45.60 75.19L51.10 75.19 M371.00 75.19L365.50 75.19 M45.60 72.74L51.10 72.74 M371.00 72.74L365.50 72.74 M45.60 70.58L51.10 70.58 M371.00 70.58L365.50 70.58 M45.60 68.65L56.60 68.65 M371.00 68.65L360.00 68.65 M45.60 55.95L51.10 55.95 M371.00 55.95L365.50 55.95 M45.60 48.52L51.10 48.52 M371.00 48.52L365.50 48.52 M45.60 43.24L51.10 43.24 M371.00 43.24L365.50 43.24 M45.60 39.15L51.10 39.15 M371.00 39.15L365.50 39.15 M45.60 35.81L51.10 35.81 M371.00 35.81L365.50 35.81 M45.60 32.99L51.10 32.99 M371.00 32.99L365.50 32.99 M45.60 30.54L51.10 30.54 M371.00 30.54L365.50 30.54 M45.60 28.38L51.10 28.38 M371.00 28.38L365.50 28.38 M45.60 26.45L56.60 26.45 M371.00 26.45L360.00 26.45 M45.60 477.78L51.10 477.78 M371.00 477.78L365.50 477.78 M45.60 458.26L53.10 458.26 M371.00 458.26L363.50 458.26 M45.60 442.30L51.10 442.30 M371.00 442.30L365.50 442.30 M45.60 428.81L51.10 428.81 M371.00 428.81L365.50 428.81 M45.60 417.13L51.10 417.13 M371.00 417.13L365.50 417.13 M45.60 406.82L51.10 406.82 M371.00 406.82L365.50 406.82 M45.60 397.60L54.60 397.60 M371.00 397.60L362.00 397.60 M45.60 389.26L51.10 389.26 M371.00 389.26L365.50 389.26 M45.60 381.64L51.10 381.64 M371.00 381.64L365.50 381.64 M45.60 374.64L51.10 374.64 M371.00 374.64L365.50 374.64 M45.60 368.16L51.10 368.16 M371.00 368.16L365.50 368.16 M45.60 362.12L53.10 362.12 M371.00 362.12L363.50 362.12 M45.60 356.47L51.10 356.47 M371.00 356.47L365.50 356.47 M45.60 351.16L51.10 351.16 M371.00 351.16L365.50 351.16 M45.60 346.16L51.10 346.16 M371.00 346.16L365.50 346.16 M45.60 341.43L51.10 341.43 M371.00 341.43L365.50 341.43 M45.60 336.94L53.10 336.94 M371.00 336.94L363.50 336.94 M45.60 332.67L51.10 332.67 M371.00 332.67L365.50 332.67 M45.60 328.60L51.10 328.60 M371.00 328.60L365.50 328.60 M45.60 324.71L51.10 324.71 M371.00 324.71L365.50 324.71 M45.60 320.99L51.10 320.99 M371.00 320.99L365.50 320.99 M45.60 317.42L51.10 317.42 M371.00 317.42L365.50 317.42" stroke="#000" stroke-width="1.1" fill="none"/>
<text x="50.6" y="13.6" font-size="12" text-anchor="start" fill="#000" >200 GeV ppbar</text>
<text x="365.9" y="14.0" font-size="12" text-anchor="end" fill="#000" >Soft QCD</text>
<text x="51.3" y="43.0" font-size="12" text-anchor="start" fill="#000" >Transverse energy cross section at</text>
<path d="M237.6 37.4L239.4 43.0L241.4 33.3L248.0 33.3" fill="none" stroke="#000" stroke-width="1.0"/>
<text x="241.5" y="43.0" font-size="12" text-anchor="start" fill="#000" >s</text>
<text x="251.1" y="43.0" font-size="12" text-anchor="start" fill="#000" >= 200 {GeV}</text>
<text x="318.6" y="43.0" font-size="12" text-anchor="start" fill="#000" >and</text>
<text x="342.3" y="43.0" font-size="12" text-anchor="start" fill="#000" >|</text>
<text x="343.9" y="43.0" font-size="10.5" text-anchor="start" fill="#000" >η</text>
<text x="349.4" y="43.0" font-size="12" text-anchor="start" fill="#000" >|</text>
<text x="353.8" y="43.0" font-size="11" text-anchor="start" fill="#000" >&lt;</text>
<text x="359.9" y="43.0" font-size="12" text-anchor="start" fill="#000" >6</text>
<text x="23.5" y="31.8" font-size="10.5" text-anchor="start" fill="#000" >10</text>
<text x="34.7" y="26.8" font-size="7.5" text-anchor="start" fill="#000" >2</text>
<text x="27.7" y="73.1" font-size="10.5" text-anchor="start" fill="#000" >10</text>
<text x="34.45" y="115.3" font-size="10.5" text-anchor="start" fill="#000" >1</text>
<text x="21.3" y="158.1" font-size="10.5" text-anchor="start" fill="#000" >10</text>
<text x="32.5" y="153.0" font-size="7.5" text-anchor="start" fill="#000" >−1</text>
<text x="18.7" y="199.8" font-size="10.5" text-anchor="start" fill="#000" >10</text>
<text x="30.6" y="195.8" font-size="7.5" text-anchor="start" fill="#000" >−2</text>
<text x="18.7" y="241.8" font-size="10.5" text-anchor="start" fill="#000" >10</text>
<text x="30.7" y="237.1" font-size="7.5" text-anchor="start" fill="#000" >−3</text>
<text x="18.7" y="284.8" font-size="10.5" text-anchor="start" fill="#000" >10</text>
<text x="30.7" y="280.3" font-size="7.5" text-anchor="start" fill="#000" >−4</text>
<text x="51.05" y="489.0" font-size="11" text-anchor="middle" fill="#000" >0</text>
<text x="140.85" y="489.0" font-size="11" text-anchor="middle" fill="#000" >20</text>
<text x="230.5" y="489.0" font-size="11" text-anchor="middle" fill="#000" >40</text>
<text x="319.7" y="489.0" font-size="11" text-anchor="middle" fill="#000" >60</text>
<text x="35.15" y="340.9" font-size="11" text-anchor="middle" fill="#000" >2</text>
<text x="377.0" y="340.7" font-size="11" text-anchor="middle" fill="#000" >2</text>
<text x="35.95" y="401.9" font-size="11" text-anchor="middle" fill="#000" >1</text>
<text x="376.55" y="402.8" font-size="11" text-anchor="middle" fill="#000" >1</text>
<text x="29.95" y="462.4" font-size="11" text-anchor="middle" fill="#000" >0.5</text>
<text x="381.9" y="462.1" font-size="11" text-anchor="middle" fill="#000" >0.5</text>
<text x="312.5" y="502.8" font-size="12">Σ E</text><text x="332.2" y="506.9" font-size="8.6">T</text><text x="341.0" y="502.8" font-size="12">[GeV]</text>
<text x="207.3" y="300.8" font-size="8" text-anchor="middle" fill="#8e8e8e" >(UA1_1990_I280412)</text>
<text transform="translate(380.3,126.7) rotate(-90)" font-size="9.4" fill="#808080">Rivet 4.1.0, ≥ 100k events</text>
<text transform="translate(380.8,313.4) rotate(-90)" font-size="9.4" fill="#808080">mcplots.cern.ch [arXiv:1306.3436]</text>
<text transform="translate(18.5,420.2) rotate(-90)" font-size="8.5">Ratio to UA1</text>
<text transform="translate(13.2,138.4) rotate(-90)" font-size="12">dσ/d</text>
<path d="M2.0 100.6L2.0 112.3" stroke="#000" stroke-width="1.8" fill="none"/>
<path d="M1.8 112.0L9.6 106.6" stroke="#000" stroke-width="2.3" fill="none"/>
<path d="M9.4 106.6L19.0 112.6" stroke="#000" stroke-width="1.1" fill="none"/>
<path d="M18.7 113.2L18.7 99.6L15.8 99.6" stroke="#000" stroke-width="1.5" fill="none"/>
<text transform="translate(12.7,97.7) rotate(-90)" font-size="12">E</text>
<text transform="translate(23.8,89.2) rotate(-90)" font-size="8.6">T</text>
<text transform="translate(12.9,80.1) rotate(-90)" font-size="12">[mb {GeV}</text>
<text transform="translate(7.4,26.2) rotate(-90)" font-size="7">−1</text>
<text transform="translate(12.9,20.0) rotate(-90)" font-size="12">]</text>
<rect x="73.55" y="221.45" width="5.50" height="5.50" fill="#000"/>
<text x="93.6" y="227.29999999999998" font-size="9.6" text-anchor="start" fill="#000" >UA1</text>
<line x1="63.8" y1="237" x2="88.6" y2="237" stroke="#ff8080" stroke-width="1.0" opacity="0.8"/>
<path d="M76.3 234.70000000000002L78.7 237.3L76.3 239.9L73.89999999999999 237.3Z" fill="#ffd0d0" stroke="#ff8080" stroke-width="1.0"/><path d="M76.3 234.70000000000002L76.3 239.9" stroke="#ff8080" stroke-width="0.8"/>
<text x="93.6" y="240.4" font-size="9.6" text-anchor="start" fill="#000" >Epos 1.99.crmc.1.6.0 lhc</text>
<line x1="63.8" y1="250" x2="88.6" y2="250" stroke="#1d6070" stroke-width="1.0" opacity="0.8"/>
<path d="M73.45 247.53L79.15 247.53L76.30 253.09Z" fill="#1d6070"/>
<text x="93.6" y="253.2" font-size="9.6" text-anchor="start" fill="#000" >Herwig 7.2.1 softTune</text>
<line x1="63.8" y1="263" x2="88.6" y2="263" stroke="#a8172e" stroke-width="1.0" opacity="0.8"/>
<path d="M73.40 265.66L79.20 265.66L76.30 260.01Z" fill="none" stroke="#a8172e" stroke-width="1.2"/>
<text x="93.6" y="266.3" font-size="9.6" text-anchor="start" fill="#000" >Pythia 6.428 370</text>
<line x1="63.8" y1="276" x2="88.6" y2="276" stroke="#0000ff" stroke-width="1.0" opacity="0.8"/>
<path d="M73.40 278.91L79.20 278.91L76.30 273.25Z" fill="#0000ff"/>
<text x="93.6" y="279.40000000000003" font-size="9.6" text-anchor="start" fill="#000" >Pythia 8.315 default</text></svg>
</body></html>
